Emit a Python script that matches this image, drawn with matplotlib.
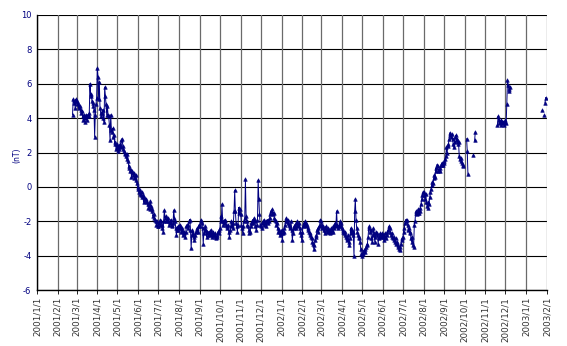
import numpy as np
import pandas as pd
import matplotlib
matplotlib.use("Agg")
import matplotlib.pyplot as plt

# daily values (nT), one list per month
feb_2001 = [4.2, 5.1, 4.9, 5.0, 4.6, 5.1]
mar_2001 = [5.0, 4.8, 4.9, 4.6, 4.7, 4.7, 4.5, 4.3, 4.4, 4.1, 3.9, 4.2, 3.8, 4.0, 4.2, 3.9,
            4.1, 4.2, 4.1, 4.3, 6.0, 5.3, 5.4, 5.0, 4.9, 4.7, 4.5, 2.9, 4.2, 4.8, 5.2]
apr_2001 = [6.9, 6.4, 5.1, 6.1, 4.6, 4.3, 4.1, 4.3, 4.5, 4.0, 3.8, 5.8, 5.3, 4.8, 4.2,
            4.7, 4.2, 4.1, 3.6, 2.7, 4.2, 3.3, 3.2, 3.4, 2.9, 3.0, 2.5, 2.6, 2.2, 2.5]
may_2001 = [2.3, 2.1, 2.4, 2.2, 2.5, 2.3, 2.7, 2.8, 2.4, 2.2, 2.1, 2.0, 1.9, 1.8, 1.6, 1.9,
            1.5, 1.1, 1.2, 0.9, 1.0, 0.6, 0.9, 0.7, 0.8, 0.5, 0.6, 0.7, 0.4, 0.2, 0.0]
jun_2001 = [-0.1, -0.3, -0.2, -0.4, -0.5, -0.3, -0.6, -0.5, -0.9, -0.6, -0.7, -0.8, -0.7, -0.9, -1.0,
            -1.2, -1.0, -1.3, -0.8, -1.1, -1.4, -1.3, -1.7, -1.6, -1.8, -1.9, -2.0, -2.2, -2.0, -2.3]
jul_2001 = [-2.3, -2.1, -2.2, -1.9, -2.0, -2.2, -2.4, -2.6, -2.0, -1.35, -1.8, -1.7, -2.0, -1.9, -1.8, -2.0,
            -2.2, -2.0, -2.1, -1.9, -2.2, -2.3, -2.1, -1.35, -1.8, -2.0, -2.4, -2.8, -2.5, -2.3, -2.5]
aug_2001 = [-2.4, -2.2, -2.3, -2.6, -2.4, -2.5, -2.8, -2.6, -2.7, -2.9, -2.6, -2.3, -2.2, -2.4, -2.2, -2.0,
            -1.9, -2.5, -3.55, -2.8, -2.5, -2.7, -2.9, -3.1, -2.8, -2.6, -2.5, -2.4, -2.6, -2.3, -2.2]
sep_2001 = [-2.3, -2.0, -1.9, -2.1, -2.4, -3.3, -2.7, -2.5, -2.3, -2.5, -2.9, -2.6, -2.8, -2.6, -2.7,
            -2.8, -2.5, -2.7, -2.9, -2.8, -2.6, -2.8, -2.9, -2.7, -3.0, -2.9, -2.8, -2.6, -2.7, -2.5]
oct_2001 = [-2.4, -1.7, -2.0, -1.0, -2.0, -2.2, -2.1, -1.9, -2.0, -2.2, -2.3, -2.4, -2.2, -2.6, -2.9, -2.5,
            -2.3, -2.0, -2.2, -2.4, -2.1, -1.4, -0.2, -1.4, -2.1, -2.3, -2.6, -2.2, -1.2, -1.5, -1.3]
nov_2001 = [-1.6, -2.2, -2.4, -2.7, -2.3, -2.0, -1.8, 0.44, -1.7, -2.0, -2.2, -2.3, -2.5, -2.7, -2.6,
            -2.3, -2.1, -2.0, -1.9, -2.1, -1.8, -2.0, -2.3, -2.5, -2.2, -1.9, 0.38, -0.7, -1.6, -2.2]
dec_2001 = [-2.3, -2.4, -2.1, -2.0, -2.2, -1.9, -2.1, -2.0, -2.3, -2.0, -1.9, -2.1, -2.0, -1.8, -1.6, -1.4,
            -1.5, -1.3, -1.6, -1.5, -1.8, -1.9, -2.0, -2.2, -2.1, -2.4, -2.6, -2.5, -2.8, -2.6, -2.7]
jan_2002 = [-2.5, -3.1, -2.7, -2.6, -2.4, -2.2, -2.0, -1.8, -2.0, -1.9, -2.1, -2.2, -2.4, -2.3, -2.0, -2.5,
            -3.1, -2.7, -2.4, -2.3, -2.2, -2.4, -2.1, -2.0, -2.2, -2.3, -2.1, -2.4, -2.6, -2.8, -3.1]
feb_2002 = [-2.6, -2.3, -2.1, -2.2, -2.0, -2.1, -2.3, -2.2, -2.5, -2.4, -2.6, -2.8, -2.7, -2.9,
            -3.0, -3.2, -3.3, -3.6, -3.4, -3.1, -2.9, -2.8, -2.5, -2.4, -2.6, -2.3, -2.2, -1.9]
mar_2002 = [-2.0, -2.2, -2.4, -2.3, -2.5, -2.7, -2.4, -2.3, -2.5, -2.6, -2.4, -2.6, -2.5, -2.7, -2.6, -2.4,
            -2.5, -2.6, -2.3, -2.4, -2.2, -2.1, -2.3, -1.4, -2.2, -2.4, -2.3, -2.2, -2.0, -2.1, -2.3]
apr_2002 = [-2.4, -2.6, -2.5, -2.7, -2.8, -2.6, -2.9, -3.1, -3.0, -2.8, -3.2, -3.4, -3.0, -2.4, -2.7,
            -2.5, -2.6, -2.8, -4.0, -1.4, -0.7, -1.9, -2.4, -2.6, -2.8, -2.9, -3.0, -3.2, -3.6, -3.9]
may_2002 = [-4.0, -3.9, -3.8, -3.7, -3.8, -3.6, -3.5, -3.4, -3.3, -2.9, -2.4, -2.3, -2.6, -2.5, -3.0, -3.2,
            -2.8, -2.4, -2.7, -3.2, -2.9, -2.6, -2.8, -2.7, -3.3, -3.0, -2.9, -2.7, -2.9, -2.8, -2.7]
jun_2002 = [-2.8, -2.9, -3.1, -2.7, -2.9, -3.0, -2.8, -2.6, -2.5, -2.3, -2.4, -2.6, -2.8, -2.7, -2.9,
            -3.0, -2.9, -3.1, -3.2, -3.0, -3.3, -3.2, -3.5, -3.4, -3.6, -3.7, -3.5, -3.3, -3.1, -3.0]
jul_2002 = [-2.9, -2.6, -2.4, -2.1, -1.9, -2.0, -1.9, -2.2, -2.5, -2.4, -2.7, -2.6, -3.0, -3.2, -2.9, -3.4,
            -3.5, -2.2, -2.0, -1.5, -1.4, -1.6, -1.5, -1.3, -1.5, -1.4, -1.2, -1.0, -0.7, -0.5, -0.3]
aug_2002 = [-0.3, -0.5, -0.7, -0.4, -0.9, -1.1, -1.2, -0.9, -1.0, -0.6, -0.3, -0.1, 0.1, 0.3, 0.2, 0.5,
            0.7, 0.6, 1.1, 0.9, 1.3, 1.2, 0.9, 1.0, 0.9, 1.1, 1.3, 1.4, 1.3, 1.3, 1.4]
sep_2002 = [1.5, 1.6, 1.8, 2.3, 2.0, 2.4, 2.5, 2.8, 3.15, 3.0, 2.9, 3.05, 2.8, 2.5, 2.3,
            2.6, 2.9, 3.0, 2.7, 2.8, 2.5, 2.6, 1.8, 1.6, 1.7, 1.5, 1.4, 1.3, 1.2]
oct_2002_a = [2.8, 2.1, 0.75]
oct_2002_b = [1.85]
oct_2002_c = [2.7, 3.2]
nov_dec_2002 = [3.6, 4.1, 3.9, 3.7, 3.8, 3.6, 3.9, 3.8, 3.7, 3.8, 3.6, 3.8, 3.9, 3.7,
                4.8, 6.2, 5.9, 5.7, 5.6, 5.8]
jan_2003_a = [4.45]
jan_2003_b = [4.2]
jan_2003_c = [4.9, 5.2]

# unbroken runs of daily data: (first day, values)
main_run = (feb_2001 + mar_2001 + apr_2001 + may_2001 + jun_2001 + jul_2001 + aug_2001
            + sep_2001 + oct_2001 + nov_2001 + dec_2001 + jan_2002 + feb_2002 + mar_2002
            + apr_2002 + may_2002 + jun_2002 + jul_2002 + aug_2002 + sep_2002)
segments = [
    ("2001-02-23", main_run),
    ("2002-10-04", oct_2002_a),
    ("2002-10-13", oct_2002_b),
    ("2002-10-16", oct_2002_c),
    ("2002-11-19", nov_dec_2002),
    ("2003-01-24", jan_2003_a),
    ("2003-01-27", jan_2003_b),
    ("2003-01-29", jan_2003_c),
]

month_ticks = pd.date_range("2001-01-01", "2003-02-01", freq="MS")
month_labels = [f"{d.year}/{d.month}/1" for d in month_ticks]
y_ticks = [-6, -4, -2, 0, 2, 4, 6, 8, 10]

navy = "#000080"

fig = plt.figure(figsize=(5.67, 3.46), dpi=100)
ax = fig.add_axes([37 / 567, 1 - 290 / 346, (547 - 37) / 567, (290 - 15) / 346])

for start, vals in segments:
    days = pd.date_range(start, periods=len(vals), freq="D")
    ax.plot(days, vals, color=navy, lw=0.7, marker="^", markersize=2.6,
            markerfacecolor=navy, markeredgecolor=navy, markeredgewidth=0.4)

ax.set_xlim(month_ticks[0], month_ticks[-1])
ax.set_ylim(-6, 10)
ax.set_xticks(month_ticks)
ax.set_xticklabels(month_labels, rotation=90, fontsize=6.3, color="#333333")
ax.set_yticks(y_ticks)
ax.set_yticklabels([str(v) for v in y_ticks], fontsize=6, color=navy)
ax.tick_params(axis="x", length=3, width=0.6, pad=2)
ax.tick_params(axis="y", length=0, pad=4)

# gridlines: black horizontals, grey month lines
for v in y_ticks:
    ax.axhline(v, color="black", lw=0.8, zorder=0)
for d in month_ticks:
    ax.axvline(d, color="#6a6a6a", lw=0.9, zorder=0)

for side in ["top", "right"]:
    ax.spines[side].set_visible(False)
ax.spines["left"].set_linewidth(1.0)
ax.spines["bottom"].set_linewidth(1.0)

fig.text(17 / 567, 1 - 155 / 346, "(nT)", rotation=90, fontsize=5.5, color=navy,
         ha="center", va="center")

fig.savefig("out.png", dpi=100)
